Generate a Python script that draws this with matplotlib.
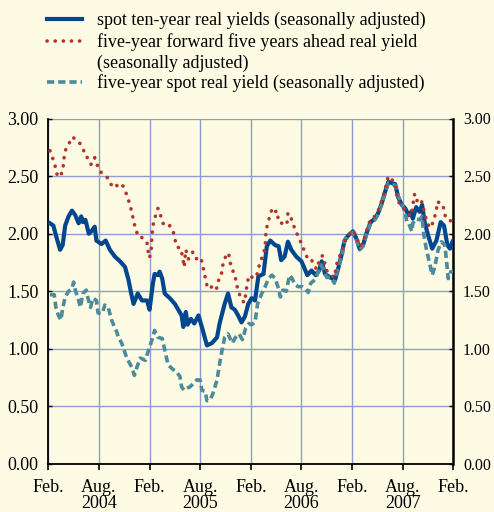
import matplotlib
matplotlib.use("Agg")
import matplotlib.pyplot as plt
from matplotlib.lines import Line2D

plt.rcParams["font.family"] = ["Liberation Serif", "DejaVu Serif"]

BG = "#FEFBE5"
BLUE = "#00478F"
RED = "#B5342A"
TEAL = "#4D8A9B"
GRID = "#8E9CD6"

# months since Feb. 2004
ten_x = [0.2, 0.6, 1.0, 1.4, 1.7, 2.0, 2.4, 2.8, 3.2, 3.6, 3.9, 4.1, 4.4, 4.8, 5.1, 5.5, 5.7,
         6.3, 6.8, 7.3, 7.9, 8.5, 9.1, 9.5, 9.8, 10.1, 10.6, 11.1, 11.7, 12.0, 12.4, 12.6,
         13.0, 13.2, 13.5, 13.8, 14.4, 15.0, 15.4, 15.8, 16.0, 16.3, 16.5, 16.9, 17.3, 17.8,
         18.2, 18.8, 19.4, 20.0, 20.3, 20.9, 21.3, 21.7, 22.1, 22.5, 22.9, 23.3, 23.7, 24.1,
         24.5, 24.9, 25.5, 25.9, 26.3, 26.9, 27.3, 27.6, 28.0, 28.4, 28.8, 29.4, 30.0, 30.3,
         30.7, 31.2, 31.7, 32.1, 32.4, 32.8, 33.4, 34.0, 34.4, 34.8, 35.1, 35.5, 36.1, 36.5,
         36.9, 37.3, 37.7, 38.2, 38.7, 39.1, 39.5, 39.9, 40.3, 40.7, 41.1, 41.5, 41.9, 42.3,
         42.7, 43.0, 43.2, 43.6, 44.0, 44.3, 44.6, 45.0, 45.5, 46.0, 46.5, 46.9, 47.3, 47.6,
         47.9]
ten_y = [2.09, 2.07, 1.96, 1.86, 1.90, 2.07, 2.15, 2.20, 2.16, 2.09, 2.15, 2.10, 2.12, 2.00,
         2.02, 2.06, 1.94, 1.91, 1.94, 1.86, 1.80, 1.76, 1.71, 1.60, 1.49, 1.39, 1.48, 1.42,
         1.42, 1.34, 1.57, 1.65, 1.64, 1.67, 1.61, 1.48, 1.44, 1.39, 1.34, 1.29, 1.19, 1.32,
         1.21, 1.26, 1.22, 1.29, 1.19, 1.03, 1.05, 1.10, 1.22, 1.39, 1.48, 1.36, 1.34, 1.29,
         1.23, 1.28, 1.39, 1.44, 1.42, 1.63, 1.65, 1.89, 1.94, 1.90, 1.89, 1.77, 1.80, 1.93,
         1.86, 1.80, 1.76, 1.71, 1.64, 1.68, 1.64, 1.68, 1.76, 1.65, 1.62, 1.60, 1.71, 1.83,
         1.94, 1.98, 2.02, 1.96, 1.87, 1.90, 2.00, 2.10, 2.13, 2.18, 2.26, 2.36, 2.45, 2.44,
         2.43, 2.31, 2.25, 2.22, 2.16, 2.19, 2.13, 2.23, 2.19, 2.25, 2.10, 1.99, 1.87, 1.94,
         2.10, 2.07, 1.90, 1.87, 1.93]

fwd_x = [0.2, 0.5, 0.8, 1.0, 1.3, 1.7, 1.9, 2.1, 2.5, 2.9, 3.3, 3.8, 4.2, 4.5, 4.7, 5.1, 5.5,
         5.7, 6.0, 6.6, 7.1, 7.5, 7.9, 8.3, 8.8, 9.1, 9.4, 9.7, 9.9, 10.1, 10.3, 10.6, 10.9,
         11.3, 11.7, 11.8, 12.0, 12.2, 12.3, 12.4, 12.6, 13.0, 13.3, 13.6, 14.0, 14.4, 14.8,
         15.0, 15.3, 15.6, 15.9, 16.1, 16.3, 16.6, 17.1, 17.5, 17.9, 18.2, 18.4, 18.6, 18.8,
         19.0, 19.4, 19.6, 20.0, 20.2, 20.5, 20.6, 20.9, 21.1, 21.4, 21.5, 21.8, 22.1, 22.5,
         22.8, 23.2, 23.4, 23.5, 23.7, 23.9, 24.3, 24.7, 24.9, 25.1, 25.4, 25.7, 25.8, 26.0,
         26.3, 26.5, 26.7, 27.1, 27.3, 27.7, 28.0, 28.3, 28.4, 28.7, 29.0, 29.3, 29.7, 30.0,
         30.3, 30.7, 31.1, 31.4, 31.8, 32.1, 32.5, 32.7, 33.0, 33.5, 33.9, 34.2, 34.5, 34.9,
         35.3, 36.1, 36.5, 36.9, 37.3, 37.7, 38.2, 38.7, 39.1, 39.5, 39.9, 40.3, 40.7, 41.1,
         41.4, 41.9, 42.5, 42.9, 43.1, 43.4, 43.6, 44.0, 44.3, 44.6, 44.9, 45.3, 45.6, 45.8,
         46.0, 46.1, 46.5, 46.8, 46.9, 47.2, 47.6, 47.8]
fwd_y = [2.72, 2.66, 2.59, 2.52, 2.49, 2.54, 2.68, 2.74, 2.79, 2.84, 2.81, 2.78, 2.72, 2.70,
         2.63, 2.60, 2.66, 2.62, 2.55, 2.51, 2.48, 2.42, 2.44, 2.40, 2.42, 2.38, 2.31, 2.25,
         2.18, 2.12, 2.05, 1.99, 1.99, 1.94, 1.92, 1.86, 1.79, 1.86, 2.00, 2.07, 2.13, 2.22,
         2.16, 2.09, 2.06, 2.07, 2.02, 1.95, 1.88, 1.88, 1.81, 1.71, 1.86, 1.78, 1.84, 1.78,
         1.80, 1.76, 1.69, 1.62, 1.55, 1.52, 1.54, 1.51, 1.53, 1.60, 1.63, 1.71, 1.77, 1.83,
         1.82, 1.76, 1.69, 1.64, 1.50, 1.45, 1.40, 1.47, 1.53, 1.61, 1.64, 1.61, 1.64, 1.69,
         1.76, 1.80, 1.88, 2.02, 2.09, 2.16, 2.21, 2.18, 2.20, 2.10, 2.09, 2.07, 2.10, 2.18,
         2.15, 2.09, 2.02, 1.97, 1.91, 1.86, 1.79, 1.79, 1.74, 1.69, 1.76, 1.81, 1.76, 1.68,
         1.64, 1.62, 1.74, 1.80, 1.87, 1.96, 2.03, 1.98, 1.89, 1.92, 2.02, 2.13, 2.15, 2.20,
         2.28, 2.38, 2.50, 2.47, 2.44, 2.29, 2.23, 2.20, 2.15, 2.20, 2.34, 2.28, 2.31, 2.27,
         2.18, 2.09, 2.05, 2.10, 2.15, 2.20, 2.28, 2.26, 2.25, 2.18, 2.13, 2.12, 2.10]

five_x = [0.2, 0.7, 0.9, 1.2, 1.5, 1.7, 2.0, 2.4, 2.8, 3.0, 3.2, 3.6, 3.8, 4.1, 4.5, 4.7, 5.0,
          5.3, 5.7, 5.9, 6.4, 6.7, 7.1, 7.5, 7.9, 8.1, 8.3, 8.7, 9.3, 9.9, 10.2, 10.5, 10.9,
          11.5, 11.8, 12.3, 12.6, 13.0, 13.5, 13.8, 14.2, 14.8, 15.2, 15.6, 15.8, 16.1, 16.5,
          16.8, 17.2, 17.6, 18.0, 18.2, 18.6, 18.8, 19.2, 19.5, 20.0, 20.3, 20.6, 20.9, 21.3,
          21.8, 22.2, 22.6, 23.0, 23.4, 23.8, 24.1, 24.5, 24.8, 25.3, 25.7, 26.1, 26.5, 26.9,
          27.3, 27.5, 27.8, 28.2, 28.6, 28.9, 29.2, 29.6, 30.1, 30.5, 30.8, 31.1, 31.6, 32.0,
          32.3, 32.7, 33.0, 33.5, 33.9, 34.3, 34.8, 35.1, 35.5, 36.1, 36.5, 36.9, 37.3, 37.7,
          38.2, 38.7, 39.1, 39.5, 39.9, 40.3, 40.7, 41.1, 41.5, 41.9, 42.3, 42.5, 42.7, 43.1,
          43.2, 43.6, 44.0, 44.3, 44.5, 44.8, 45.2, 45.5, 45.8, 46.2, 46.6, 47.0, 47.2, 47.4,
          47.7, 48.0]
five_y = [1.47, 1.47, 1.36, 1.29, 1.25, 1.35, 1.45, 1.50, 1.52, 1.58, 1.51, 1.42, 1.36, 1.48,
          1.51, 1.44, 1.36, 1.44, 1.42, 1.31, 1.31, 1.38, 1.36, 1.25, 1.18, 1.15, 1.10, 1.05,
          0.92, 0.84, 0.77, 0.84, 0.92, 0.90, 0.97, 1.08, 1.16, 1.10, 1.09, 0.99, 0.86, 0.82,
          0.80, 0.76, 0.67, 0.64, 0.66, 0.67, 0.70, 0.73, 0.73, 0.64, 0.63, 0.55, 0.56, 0.61,
          0.73, 0.87, 0.99, 1.10, 1.13, 1.05, 1.10, 1.13, 1.08, 1.18, 1.22, 1.21, 1.23, 1.39,
          1.48, 1.54, 1.61, 1.64, 1.61, 1.52, 1.45, 1.51, 1.50, 1.64, 1.61, 1.56, 1.54, 1.54,
          1.52, 1.49, 1.57, 1.60, 1.67, 1.73, 1.68, 1.62, 1.62, 1.57, 1.70, 1.80, 1.94, 1.99,
          2.01, 1.95, 1.86, 1.89, 1.99, 2.09, 2.12, 2.17, 2.25, 2.35, 2.44, 2.43, 2.42, 2.32,
          2.26, 2.18, 2.10, 2.09, 2.02, 2.09, 2.13, 2.12, 2.15, 1.99, 1.87, 1.74, 1.64, 1.71,
          1.86, 1.93, 1.90, 1.76, 1.61, 1.67, 1.67]

tick_pos = [0, 6, 12, 18, 24, 30, 36, 42, 48]
tick_labels = ["Feb.", "Aug.\n2004", "Feb.", "Aug.\n2005", "Feb.", "Aug.\n2006",
               "Feb.", "Aug.\n2007", "Feb."]
y_ticks = [0.0, 0.5, 1.0, 1.5, 2.0, 2.5, 3.0]

# one entry per text line: (pixel y of baseline, text); handles sit on their own row
legend_lines = [
    (25, "spot ten-year real yields (seasonally adjusted)"),
    (47, "five-year forward five years ahead real yield"),
    (68, "(seasonally adjusted)"),
    (88, "five-year spot real yield (seasonally adjusted)"),
]
handle_rows = [19, 41, 82]


def main() -> None:
    W, H = 494.0, 512.0
    fig = plt.figure(figsize=(W / 100, H / 100), dpi=100, facecolor=BG)
    ax = fig.add_axes([48.3 / W, 1 - 464 / H, 405 / W, 345.5 / H])
    ax.set_facecolor(BG)

    red_style = dict(lw=2.6, linestyle=(0, (0.05, 2.2)), dash_capstyle="round")
    teal_style = dict(lw=2.6, dashes=(2.0, 1.1))
    blue_style = dict(lw=3.0, solid_joinstyle="round")

    ax.plot(ten_x, ten_y, color=BLUE, zorder=3, **blue_style)
    ax.plot(five_x, five_y, color=TEAL, zorder=4, **teal_style)
    ax.plot(fwd_x, fwd_y, color=RED, zorder=5, **red_style)

    ax.set_xlim(0, 48)
    ax.set_ylim(0, 3)
    ax.set_xticks(tick_pos)
    ax.set_xticklabels(tick_labels, fontsize=13, linespacing=0.88)
    ax.set_yticks(y_ticks)
    ax.set_yticklabels([f"{v:.2f}" for v in y_ticks], fontsize=13)
    ax.grid(True, color=GRID, lw=1.0, zorder=1)
    ax.set_axisbelow(True)

    ax.tick_params(axis="x", direction="out", length=4, width=1.2, pad=7, color="black")
    ax.tick_params(axis="y", direction="in", length=3, width=1.0, pad=7, color="black",
                   right=True, labelright=True)
    # right-hand labels are set slightly smaller than the left ones
    for tick in ax.yaxis.get_major_ticks():
        tick.label2.set_fontsize(11.5)

    ax.spines["top"].set_visible(False)
    for side in ("left", "right", "bottom"):
        ax.spines[side].set_color("black")
    ax.spines["left"].set_linewidth(1.3)
    ax.spines["right"].set_linewidth(1.8)
    ax.spines["bottom"].set_linewidth(1.3)

    # legend drawn by hand to keep the handle on the first text line
    for ypx, color, style in zip(handle_rows, [BLUE, RED, TEAL],
                                 [blue_style, red_style, teal_style]):
        yf = 1 - ypx / H
        fig.add_artist(Line2D([47 / W, 82 / W], [yf, yf], color=color, **style))
    for ypx, text in legend_lines:
        fig.text(97 / W, 1 - ypx / H, text, fontsize=13, va="baseline", ha="left")

    fig.savefig("out.png", dpi=100, facecolor=BG)
    plt.close(fig)


if __name__ == "__main__":
    main()
